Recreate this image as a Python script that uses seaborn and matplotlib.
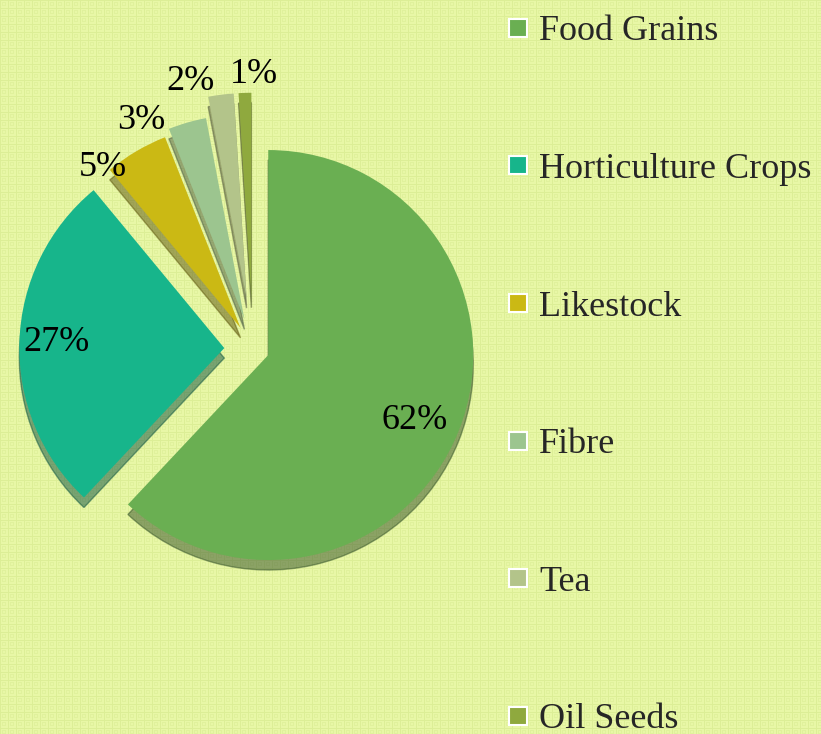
import numpy as np
import seaborn as sns
import matplotlib.pyplot as plt
from matplotlib.lines import Line2D

categories = ["Food Grains", "Horticulture Crops", "Likestock", "Fibre", "Tea", "Oil Seeds"]
shares = [62, 27, 5, 3, 2, 1]

colors = ["#6aaf52", "#17b58b", "#cbb914", "#9cc58f", "#b3c48a", "#8fa93e"]
explode = [0.08, 0.14, 0.12, 0.15, 0.25, 0.25]
label_dist = [0.78, 0.82, 1.15, 1.24, 1.34, 1.34]
label_nudge = [-2.5, 0, 9, 10, 6, -2]  # degrees

sns.set_style("white")
plt.rcParams["font.family"] = ["Liberation Serif", "DejaVu Serif"]

W, H = 821, 734
bg = "#e5f59d"
fig = plt.figure(figsize=(W / 100, H / 100), dpi=100, facecolor=bg)

# background texture of small squares
tile = np.zeros((8, 8))
tile[0, :] = tile[:, 0] = 1
tile[2:6, 2:6] = 0.6
tile[3:5, 3:5] = 0
pattern = np.tile(tile, (H // 8 + 1, W // 8 + 1))[:H, :W]
base = np.array([232, 247, 166]) / 255
dark = np.array([220, 238, 150]) / 255
img = base + pattern[..., None] * (dark - base)
bax = fig.add_axes([0, 0, 1, 1], zorder=-1)
bax.imshow(img, aspect="auto", interpolation="nearest")
bax.axis("off")

cx, cy, side = 253, 349, 492
ax = fig.add_axes([(cx - side / 2) / W, (H - cy - side / 2) / H, side / W, side / H])
ax.set_facecolor("none")

wedges, _ = ax.pie(
    shares,
    colors=colors,
    explode=explode,
    startangle=90,
    counterclock=False,
    shadow={"ox": 0.0, "oy": -0.035, "shade": 0.55},
    wedgeprops={"edgecolor": "none"},
)
for w in wedges:
    w.set_zorder(3)

for w, pct, d, e, nud in zip(wedges, shares, label_dist, explode, label_nudge):
    mid = np.deg2rad((w.theta1 + w.theta2) / 2)
    ox, oy = e * np.cos(mid), e * np.sin(mid)
    ang = mid + np.deg2rad(nud)
    x = d * np.cos(ang) + (0 if d > 1 else ox)
    y = d * np.sin(ang) + (0 if d > 1 else oy)
    ax.text(x, y, f"{pct}%", ha="center", va="center", fontsize=26, color="black", zorder=5)

ax.set_xlim(-1.2, 1.2)
ax.set_ylim(-1.2, 1.2)
ax.set_aspect("equal")
ax.axis("off")

handles = [
    Line2D([], [], marker="s", linestyle="none", markersize=13,
           markerfacecolor=c, markeredgecolor="white", markeredgewidth=1.5)
    for c in colors
]
fig.legend(
    handles, categories,
    loc="upper left",
    bbox_to_anchor=(508 / W, 1 - 15 / H),
    frameon=False,
    fontsize=26,
    handlelength=0.55,
    handletextpad=0.32,
    labelspacing=2.89,
    borderpad=0,
    borderaxespad=0,
)

fig.savefig("out.png", dpi=100, facecolor=bg)
